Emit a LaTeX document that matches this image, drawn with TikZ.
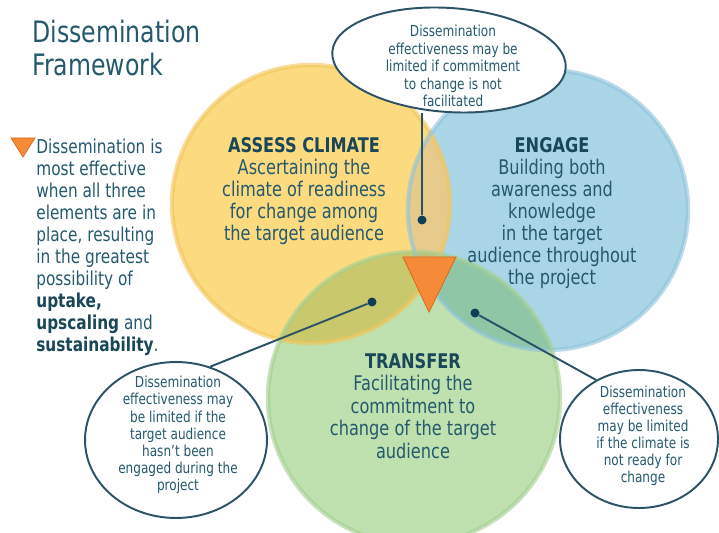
\documentclass[tikz,border=0pt]{standalone}
\usepackage{fontspec}
\setmainfont{DejaVu Sans}[FakeStretch=0.8]
\usetikzlibrary{shapes.geometric}

\definecolor{ink}{HTML}{25596E}
\definecolor{headink}{HTML}{1A4758}
\definecolor{climatefill}{HTML}{FBDA80}
\definecolor{climaterim}{HTML}{F2C65A}
\definecolor{awarefill}{HTML}{A9D5E7}
\definecolor{awarerim}{HTML}{8FC3DA}
\definecolor{commitfill}{HTML}{BEE1AF}
\definecolor{commitrim}{HTML}{A5D092}
\definecolor{climateaware}{HTML}{E6CA8C}
\definecolor{climatecommit}{HTML}{C9C86C}
\definecolor{awarecommit}{HTML}{8FC6A6}
\definecolor{allthree}{HTML}{C2BE78}
\definecolor{pointer}{HTML}{F58A38}
\definecolor{pointerrim}{HTML}{D96C1C}
\definecolor{noteline}{HTML}{2C5266}
\definecolor{dotink}{HTML}{103D57}

\tikzset{
  heading/.style={align=center, text=ink, inner sep=0pt, font=\fontsize{11.5}{12.5}\selectfont},
  note/.style={align=center, text=ink, inner sep=0pt, font=\fontsize{8.6}{9.9}\selectfont},
  callout/.style={ellipse, draw=noteline, fill=white, line width=1.1pt, inner sep=0pt},
  dot/.style={circle, fill=dotink, inner sep=0pt, minimum size=0.18cm},
  lead/.style={draw=noteline, line width=1.1pt}
}

\begin{document}
\begin{tikzpicture}[x=0.02cm,y=-0.02cm]
\clip (0,0) rectangle (719,533);
\fill[white] (0,0) rectangle (719,533);

% the three circles
\coordinate (assess) at (311,204);
\coordinate (engage) at (548,210);
\coordinate (transfer) at (414,398);
\fill[climatefill] (assess) circle (139);
\fill[awarefill] (engage) circle (140);
\fill[commitfill] (transfer) circle (146);

% overlaps
\begin{scope}
  \clip (engage) circle (140);
  \fill[awarecommit] (transfer) circle (146);
\end{scope}
\begin{scope}
  \clip (assess) circle (139);
  \fill[climateaware] (engage) circle (140);
  \fill[climatecommit] (transfer) circle (146);
  \clip (engage) circle (140);
  \fill[allthree] (transfer) circle (146);
\end{scope}
\draw[climaterim, line width=2.5pt, opacity=0.6] (assess) circle (139);
\draw[awarerim, line width=2.5pt, opacity=0.6] (engage) circle (140);
\draw[commitrim, line width=2.5pt, opacity=0.6] (transfer) circle (146);

% title and summary
\node[anchor=west, align=left, text=ink, inner sep=0pt, font=\fontsize{16.8}{19.3}\selectfont] (title) at (32,48) {Dissemination\\Framework};
\fill[pointer, draw=pointerrim, line width=0.4pt] (11,138) -- (35,138) -- (23,157) -- cycle;
\node[anchor=west, align=left, text=ink, inner sep=0pt, font=\fontsize{10.9}{12.5}\selectfont] (summary) at (36,247)
  {Dissemination is\\most effective\\when all three\\elements are in\\place, resulting\\in the greatest\\possibility of\\\textcolor{headink}{\textbf{uptake,}}\\\textcolor{headink}{\textbf{upscaling}} and\\\textcolor{headink}{\textbf{sustainability}}.};

% circle texts
\node[heading] (assesstext) at (304,191) {\textcolor{headink}{\textbf{ASSESS CLIMATE}}\\Ascertaining the\\climate of readiness\\for change among\\the target audience};
\node[heading] (engagetext) at (552,213) {\textcolor{headink}{\textbf{ENGAGE}}\\Building both\\awareness and\\knowledge\\in the target\\audience throughout\\the project};
\node[heading, font=\fontsize{11.5}{12.8}\selectfont] (transfertext) at (413,406) {\textcolor{headink}{\textbf{TRANSFER}}\\Facilitating the\\commitment to\\change of the target\\audience};

% centre pointer
\fill[pointer, draw=pointerrim, line width=0.5pt] (403,257) -- (456,257) -- (429,312) -- cycle;

% callouts
\node[callout, minimum width=4.68cm, minimum height=2.08cm, rotate=-4] (topnote) at (449,60) {};
\node[note] (toptext) at (453,66) {Dissemination\\effectiveness may be\\limited if commitment\\to change is not\\facilitated};
\node[callout, minimum width=3.64cm, minimum height=3.12cm] (leftnote) at (176,440) {};
\node[note, font=\fontsize{8.6}{9.75}\selectfont] (lefttext) at (178,435) {Dissemination\\effectiveness may\\be limited if the\\target audience\\hasn't been\\engaged during the\\project};
\node[callout, minimum width=3.16cm, minimum height=2.76cm] (rightnote) at (639,439) {};
\node[note, font=\fontsize{8.6}{9.75}\selectfont] (righttext) at (643,436) {Dissemination\\effectiveness\\may be limited\\if the climate is\\not ready for\\change};

% dots and lead lines
\node[dot] (dotA) at (422,220) {};
\node[dot] (dotB) at (372,302) {};
\node[dot] (dotC) at (475,313) {};
\draw[lead] (dotA) -- (dotA |- topnote.south);
\draw[lead] (dotB) -- (leftnote.65);
\draw[lead] (dotC) -- (rightnote.126);
\end{tikzpicture}
\end{document}
